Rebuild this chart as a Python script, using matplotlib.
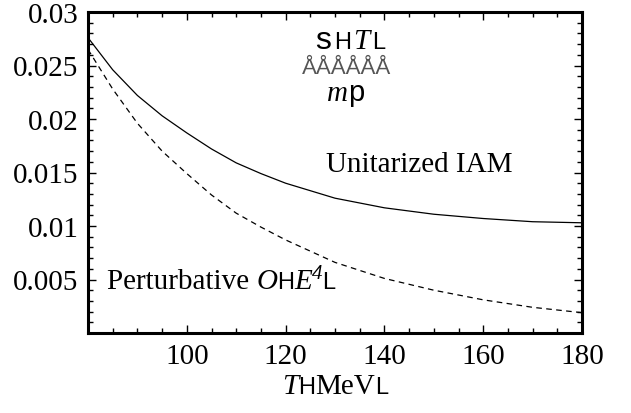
import matplotlib
matplotlib.use("Agg")
import matplotlib.pyplot as plt
from matplotlib.ticker import MultipleLocator, FixedLocator

T = [80, 85, 90, 95, 100, 105, 110, 115, 120, 130, 140, 150, 160, 170, 180]
unitarized = [0.0276, 0.0246, 0.0222, 0.0203, 0.0187, 0.0172, 0.0159, 0.0149,
              0.0140, 0.0126, 0.0117, 0.0111, 0.0107, 0.0104, 0.0103]
perturbative = [0.0265, 0.0228, 0.0196, 0.0170, 0.0149, 0.0129, 0.0112, 0.0099,
                0.0087, 0.0066, 0.0051, 0.0040, 0.0031, 0.0024, 0.0019]
xticks = [100, 120, 140, 160, 180]
yticks = [0.005, 0.01, 0.015, 0.02, 0.025, 0.03]
ytick_labels = ["0.005", "0.01", "0.015", "0.02", "0.025", "0.03"]

SERIF = "Liberation Serif"
SANS = "Liberation Sans"
FS = 21
NFS = FS - 4

fig = plt.figure(figsize=(6.31, 4.14), dpi=100)
ax = fig.add_axes([88/631, 1 - 334/414, (582-88)/631, (334-13)/414])
ax.plot(T, unitarized, color="black", lw=0.9)
ax.plot(T, perturbative, color="black", lw=0.9, dashes=(4.5, 3.5))
ax.set_xlim(80, 180)
ax.set_ylim(0, 0.03)

ax.xaxis.set_major_locator(FixedLocator(xticks))
ax.xaxis.set_minor_locator(MultipleLocator(5))
ax.yaxis.set_major_locator(FixedLocator(yticks))
ax.set_yticklabels(ytick_labels)
ax.yaxis.set_minor_locator(MultipleLocator(0.001))
ax.tick_params(which="both", direction="in", top=True, right=True, width=1.0)
ax.tick_params(which="major", length=6, labelsize=FS, pad=7)
ax.tick_params(which="minor", length=3.5)
for lab in ax.get_xticklabels() + ax.get_yticklabels():
    lab.set_fontfamily(SERIF)
for s in ax.spines.values():
    s.set_linewidth(2.2)

fig.canvas.draw()
renderer = fig.canvas.get_renderer()

def seq(x, y, pieces, ha_center=False):
    """Draw consecutive text pieces starting at pixel (x, y) baseline."""
    objs = []
    cx = x
    for txt, kw, dy in pieces:
        t = fig.text(cx/631, 1 - (y - dy)/414, txt, va="baseline", ha="left", **kw)
        bb = t.get_window_extent(renderer)
        cx += bb.width
        objs.append(t)
    if ha_center:
        total = cx - x
        for t in objs:
            px, py = t.get_position()
            t.set_position((px - total/2/631, py))
    return objs

# x label  T(MeV)
seq(335, 394, [
    ("T", dict(family=SERIF, style="italic", fontsize=FS), 0),
    ("H", dict(family=SANS, fontsize=NFS), 0),
    ("MeV", dict(family=SERIF, fontsize=FS), 0),
    ("L", dict(family=SANS, fontsize=NFS), 0),
], ha_center=True)

# curve labels
ax.text(0.482, 0.505, "Unitarized IAM", transform=ax.transAxes, family=SERIF,
        fontsize=FS, va="baseline", ha="left")
seq(107, 289, [
    ("Perturbative ", dict(family=SERIF, fontsize=FS), 0),
    ("O", dict(family=SERIF, style="italic", fontsize=FS), 0),
    ("H", dict(family=SANS, fontsize=NFS), 0),
    ("E", dict(family=SERIF, style="italic", fontsize=FS), 0),
    ("4", dict(family=SERIF, style="italic", fontsize=FS-6), 10),
    ("L", dict(family=SANS, fontsize=NFS), 0),
])

# title-like fraction  s(T) / m_p
seq(350, 49, [
    ("s", dict(family=SANS, fontsize=FS+2), 0),
    (" ", dict(family=SANS, fontsize=FS-12), 0),
    ("H", dict(family=SANS, fontsize=NFS), 0),
    (" ", dict(family=SANS, fontsize=FS-16), 0),
    ("T", dict(family=SERIF, style="italic", fontsize=FS), 0),
    (" ", dict(family=SANS, fontsize=FS-14), 0),
    ("L", dict(family=SANS, fontsize=NFS), 0),
], ha_center=True)
fig.text(347/631, 1 - 74/414, "ÅÅÅÅÅÅ", family=SANS, fontsize=16,
         color="#555555", va="baseline", ha="center")
seq(346, 101, [
    ("m", dict(family=SERIF, style="italic", fontsize=FS), 0),
    ("p", dict(family=SANS, fontsize=FS), 0),
], ha_center=True)

fig.savefig("out.png", dpi=100)
